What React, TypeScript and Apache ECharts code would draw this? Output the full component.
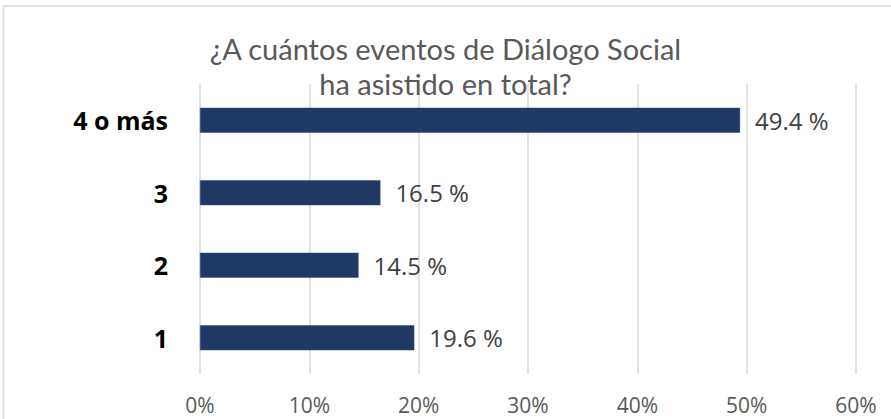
import React, { useEffect, useRef } from "react";
import * as echarts from "echarts";

const categories = ["1", "2", "3", "4 o más"];
const values = [19.6, 14.5, 16.5, 49.4];
const axisTicks = [0, 10, 20, 30, 40, 50, 60];
const titleLines = ["¿A cuántos eventos de Diálogo Social", "ha asistido en total?"];

export default function App() {
  const ref = useRef<HTMLDivElement>(null);
  useEffect(() => {
    if (!ref.current) return;
    const chart = echarts.init(ref.current, undefined, { renderer: "svg" });
    chart.setOption({
      animation: false,
      backgroundColor: "#ffffff",
      title: {
        text: titleLines.join("\n"),
        left: "center",
        top: 31,
        padding: 0,
        textStyle: {
          fontFamily: "Lato",
          fontWeight: "normal",
          fontSize: 29,
          lineHeight: 35,
          color: "#595959",
        },
      },
      graphic: [
        {
          type: "rect",
          shape: { x: 3.5, y: 6, width: 1000, height: 1000 },
          style: { fill: "none", stroke: "#d9d9d9", lineWidth: 1.5 },
          silent: true,
        },
      ],
      grid: { left: 200, right: 35, top: 84, bottom: 45 },
      xAxis: {
        type: "value",
        min: axisTicks[0],
        max: axisTicks[axisTicks.length - 1],
        interval: 10,
        axisLine: { show: false },
        axisTick: { show: false },
        splitLine: { show: true, lineStyle: { color: "#d9d9d9", width: 1.5 } },
        axisLabel: {
          formatter: (v: number) => `${v}%`,
          fontFamily: "Open Sans",
          fontSize: 21,
          color: "#595959",
          margin: 20,
        },
      },
      yAxis: {
        type: "category",
        data: categories,
        axisLine: { show: false },
        axisTick: { show: false },
        axisLabel: {
          fontFamily: "Open Sans",
          fontWeight: "bold",
          fontSize: 25,
          color: "#000000",
          margin: 32,
        },
      },
      series: [
        {
          type: "bar",
          data: values,
          barWidth: 25,
          itemStyle: { color: "#203864", borderColor: "#2f4a7a", borderWidth: 0.5 },
          label: {
            show: true,
            position: "right",
            distance: 15,
            formatter: (p: any) => `${p.value.toFixed(1)} %`,
            fontFamily: "Open Sans",
            fontSize: 24,
            color: "#404040",
          },
        },
      ],
    });
    return () => chart.dispose();
  }, []);
  return (
    <div
      ref={ref}
      style={{ position: "fixed", left: 0, top: 0, width: 891, height: 419 }}
    />
  );
}
